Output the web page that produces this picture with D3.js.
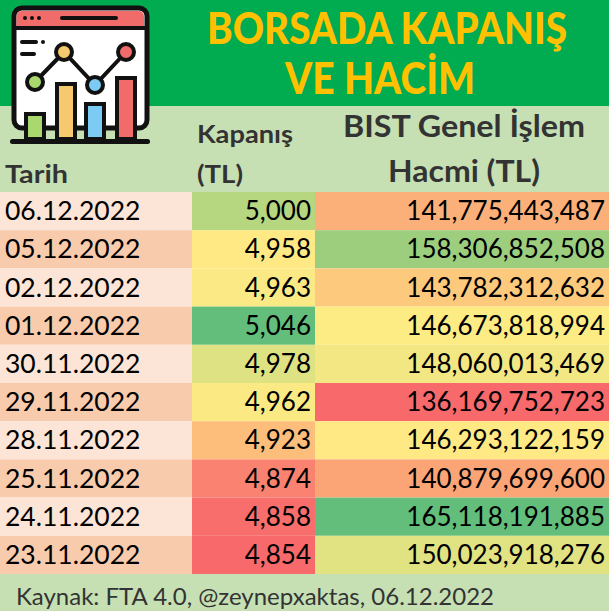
<!DOCTYPE html>
<html><head><meta charset="utf-8">
<script src="https://cdn.jsdelivr.net/npm/d3@7"></script>
<style>body{margin:0;}svg{display:block;font-family:Lato,"Open Sans",sans-serif;}</style>
</head><body><svg id="c" width="609" height="611"></svg>
<script>
const dates=["06.12.2022","05.12.2022","02.12.2022","01.12.2022","30.11.2022","29.11.2022","28.11.2022","25.11.2022","24.11.2022","23.11.2022"];
const closes=[5000,4958,4963,5046,4978,4962,4923,4874,4858,4854];
const volumes=[141775443487,158306852508,143782312632,146673818994,148060013469,136169752723,146293122159,140879699600,165118191885,150023918276];

const svg=d3.select("#c");
const W=609;
svg.append("rect").attr("width",W).attr("height",106).attr("fill","#00AC4F");
svg.append("rect").attr("y",106).attr("width",W).attr("height",86).attr("fill","#C6E0B4");
svg.append("rect").attr("y",574).attr("width",W).attr("height",37).attr("fill","#C6E0B4");

const title=svg.append("text").attr("fill","#FFC000").attr("font-weight","900").attr("font-size",43).attr("text-anchor","middle").attr("font-family","Lato, sans-serif");
title.append("tspan").attr("x",387).attr("y",44).attr("textLength",360).attr("lengthAdjust","spacingAndGlyphs").text("BORSADA KAPANIŞ");
title.append("tspan").attr("x",380).attr("y",94).attr("textLength",190).attr("lengthAdjust","spacingAndGlyphs").text("VE HACİM");

const hdr=(x,y,t,s,len)=>svg.append("text").attr("x",x).attr("y",y).attr("font-size",s).attr("font-weight","bold").attr("fill","#333").attr("textLength",len).attr("lengthAdjust","spacingAndGlyphs").text(t);
hdr(5,183,"Tarih",24,63);
hdr(197,143,"Kapanış",24,96);
hdr(197,183,"(TL)",25,46);
hdr(343,137,"BIST Genel İşlem",30,242);
hdr(388,182,"Hacmi (TL)",30,152);

const y=d3.scaleBand().domain(dates).range([192,574]);
const colScale=vals=>{const s=vals.slice().sort(d3.ascending);
  return d3.scaleLinear().domain([s[0],d3.median(s),s[s.length-1]]).range(["#F8696B","#FFEB84","#63BE7B"]);};
const cc=colScale(closes), vc=colScale(volumes);
const fmt=d3.format(",");
dates.forEach((d,i)=>{
  const y0=y(d),h=y.bandwidth();
  svg.append("rect").attr("x",0).attr("y",y0).attr("width",192).attr("height",h).attr("fill",i%2?"#F8CBAD":"#FCE4D6");
  svg.append("rect").attr("x",192).attr("y",y0).attr("width",123).attr("height",h).attr("fill",cc(closes[i]));
  svg.append("rect").attr("x",315).attr("y",y0).attr("width",294).attr("height",h).attr("fill",vc(volumes[i]));
  const ty=y0+h/2+9;
  svg.append("text").attr("x",5).attr("y",ty).attr("font-size",26.5).attr("fill","#000").text(d);
  svg.append("text").attr("x",311).attr("y",ty).attr("font-size",26).attr("text-anchor","end").attr("fill","#000").text(fmt(closes[i]));
  svg.append("text").attr("x",605).attr("y",ty).attr("font-size",26).attr("text-anchor","end").attr("fill","#000").text(fmt(volumes[i]));
});
svg.append("text").attr("x",16).attr("y",605).attr("font-size",24).attr("fill","#333").text("Kaynak: FTA 4.0, @zeynepxaktas, 06.12.2022");

// icon
const g=svg.append("g");
g.append("rect").attr("x",14).attr("y",8).attr("width",133).attr("height",120).attr("rx",8).attr("fill","#fff").attr("stroke","#111").attr("stroke-width",5);
g.append("path").attr("d","M16.5,26 V16 a5,5 0 0 1 5,-5 H139 a5,5 0 0 1 5,5 V26 Z").attr("fill","#F26B6B");
g.append("line").attr("x1",14).attr("x2",147).attr("y1",28).attr("y2",28).attr("stroke","#111").attr("stroke-width",4);
[25,32,39].forEach(x=>g.append("circle").attr("cx",x).attr("cy",18).attr("r",2).attr("fill","#111"));
g.append("line").attr("x1",62).attr("x2",116).attr("y1",18).attr("y2",18).attr("stroke","#111").attr("stroke-width",4).attr("stroke-linecap","round");
[[22,42,36],[22,54,34]].forEach(([a,yy,b])=>g.append("line").attr("x1",a).attr("x2",b).attr("y1",yy).attr("y2",yy).attr("stroke","#111").attr("stroke-width",4).attr("stroke-linecap","round"));
g.append("circle").attr("cx",43).attr("cy",42).attr("r",2).attr("fill","#111");
g.append("rect").attr("x",10).attr("y",139).attr("width",140).attr("height",5).attr("rx",2.5).attr("fill","#111");
[[26,114,"#A9D86E"],[57,84,"#F7C96E"],[86,104,"#7CCBF5"],[117,78,"#F26B6B"]].forEach(([x,top,c])=>{
  g.append("rect").attr("x",x).attr("y",top).attr("width",18).attr("height",139-top).attr("fill",c).attr("stroke","#111").attr("stroke-width",4);
});
const pts=[[35,82,"#A9D86E"],[64,52,"#F7C96E"],[95,85,"#7CCBF5"],[126,52,"#F26B6B"]];
g.append("path").attr("d",d3.line()(pts.map(p=>[p[0],p[1]]))).attr("fill","none").attr("stroke","#111").attr("stroke-width",4);
pts.forEach(([x,yy,c])=>g.append("circle").attr("cx",x).attr("cy",yy).attr("r",8).attr("fill",c).attr("stroke","#111").attr("stroke-width",4));
</script></body></html>
